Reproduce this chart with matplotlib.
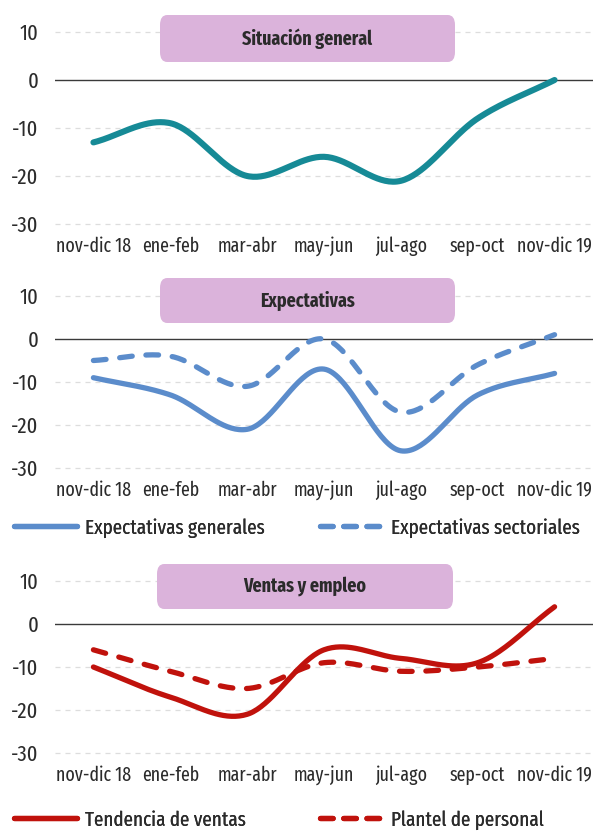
import numpy as np
import matplotlib.pyplot as plt
from matplotlib import font_manager as fm
from matplotlib.patches import FancyBboxPatch
from matplotlib.lines import Line2D

# pick a condensed sans close to the original (Myriad Condensed look)
available = {f.name for f in fm.fontManager.ttflist}
for fam in ["Fira Sans Extra Condensed", "Fira Sans Condensed", "PT Sans Narrow", "Roboto Condensed",
            "Archivo Narrow", "Liberation Sans Narrow"]:
    if fam in available:
        FONT = fam
        break
else:
    FONT = "DejaVu Sans"
plt.rcParams['font.family'] = [FONT, 'DejaVu Sans']

# data
periods = ["nov-dic 18", "ene-feb", "mar-abr", "may-jun", "jul-ago", "sep-oct", "nov-dic 19"]
situacion_general = [-13, -9, -20, -16, -21, -8, 0]
expect_generales = [-9, -13, -21, -7, -26, -13, -8]
expect_sectoriales = [-5, -4, -11, 0, -17, -6, 1]
tendencia_ventas = [-10, -17, -21, -6, -8, -9, 4]
plantel_personal = [-6, -11, -15, -9, -11, -10, -8]
y_ticks = [10, 0, -10, -20, -30]

TEAL = "#168A96"
BLUE = "#5B8CCB"
RED = "#C0120C"
PINK = "#DBB3DB"
TXT = "#2b2b2b"

W, H = 601, 832


def smooth(y, n=40):
    # catmull-rom spline through the points (like excel "smoothed line")
    x = np.arange(len(y), dtype=float)
    y = np.asarray(y, dtype=float)
    px = np.concatenate([[2 * x[0] - x[1]], x, [2 * x[-1] - x[-2]]])
    py = np.concatenate([[2 * y[0] - y[1]], y, [2 * y[-1] - y[-2]]])
    xs, ys = [], []
    t = np.linspace(0, 1, n)
    for i in range(1, len(px) - 2):
        for p, out in ((px, xs), (py, ys)):
            p0, p1, p2, p3 = p[i - 1], p[i], p[i + 1], p[i + 2]
            out.append(0.5 * (2 * p1 + (-p0 + p2) * t
                              + (2 * p0 - 5 * p1 + 4 * p2 - p3) * t ** 2
                              + (-p0 + 3 * p1 - 3 * p2 + p3) * t ** 3))
    return np.concatenate(xs), np.concatenate(ys)


fig = plt.figure(figsize=(W / 100, H / 100), dpi=100)


def make_panel(zero_px, scale, title, box):
    ymin, ymax = -30.6, 13
    top = zero_px - ymax * scale
    bot = zero_px - ymin * scale
    ax = fig.add_axes([55 / W, 1 - bot / H, (593 - 55) / W, (bot - top) / H])
    ax.set_xlim(-0.5, 6.5)
    ax.set_ylim(ymin, ymax)
    for s in ax.spines.values():
        s.set_visible(False)
    for v in y_ticks:
        if v == 0:
            ax.axhline(0, color="#3a3a3a", lw=1.0, zorder=1)
        else:
            ax.axhline(v, color="#dddddd", lw=0.9, ls=(0, (4, 4)), zorder=0)
    ax.set_yticks(y_ticks)
    ax.set_yticklabels([str(v) for v in y_ticks], fontsize=16, color=TXT)
    ax.set_xticks(range(len(periods)))
    ax.set_xticklabels(periods, fontsize=14, color=TXT)
    ax.tick_params(length=0)
    ax.tick_params(axis="y", pad=12)
    ax.tick_params(axis="x", pad=7)
    x0, y0, x1, y1 = box
    patch = FancyBboxPatch((x0 / W, 1 - y1 / H), (x1 - x0) / W, (y1 - y0) / H,
                           boxstyle="round,pad=0,rounding_size=0.012",
                           transform=fig.transFigure, fc=PINK, ec="none", zorder=3)
    fig.patches.append(patch)
    fig.text((x0 + x1) / 2 / W, 1 - (y0 + y1) / 2 / H, title, ha="center", va="center",
             fontsize=14, fontweight="bold", color=TXT)
    return ax


def draw(ax, vals, color, dashed=False, lw=3.8):
    xs, ys = smooth(vals)
    kw = dict(color=color, lw=lw, solid_capstyle="round", dash_capstyle="round", zorder=4)
    if dashed:
        kw["ls"] = (0, (2.4, 2.6))
    ax.plot(xs, ys, **kw)


ax1 = make_panel(80, 4.8, "Situación general", (160, 15, 455, 62))
draw(ax1, situacion_general, TEAL, lw=4.4)

ax2 = make_panel(339, 4.3, "Expectativas", (160, 278, 455, 323))
draw(ax2, expect_generales, BLUE)
draw(ax2, expect_sectoriales, BLUE, dashed=True)

ax3 = make_panel(624, 4.3, "Ventas y empleo", (157, 564, 453, 609))
draw(ax3, tendencia_ventas, RED)
draw(ax3, plantel_personal, RED, dashed=True)


def legend(labels, color, y_px):
    # two separate entries, placed where the original puts them
    solid = Line2D([], [], color=color, lw=3.8, solid_capstyle="round")
    dash = Line2D([], [], color=color, lw=3.8, ls=(0, (2.4, 2.0)), dash_capstyle="round")
    for h, lab, x_px in ((solid, labels[0], 14), (dash, labels[1], 320)):
        lg = fig.legend([h], [lab], loc="center left", bbox_to_anchor=(x_px / W, 1 - y_px / H),
                        frameon=False, fontsize=15, handlelength=3.0, handletextpad=0.4,
                        labelcolor=TXT, borderaxespad=0, borderpad=0)
        fig.add_artist(lg)


legend(["Expectativas generales", "Expectativas sectoriales"], BLUE, 528)
legend(["Tendencia de ventas", "Plantel de personal"], RED, 820)

fig.savefig("out.png", dpi=100)
